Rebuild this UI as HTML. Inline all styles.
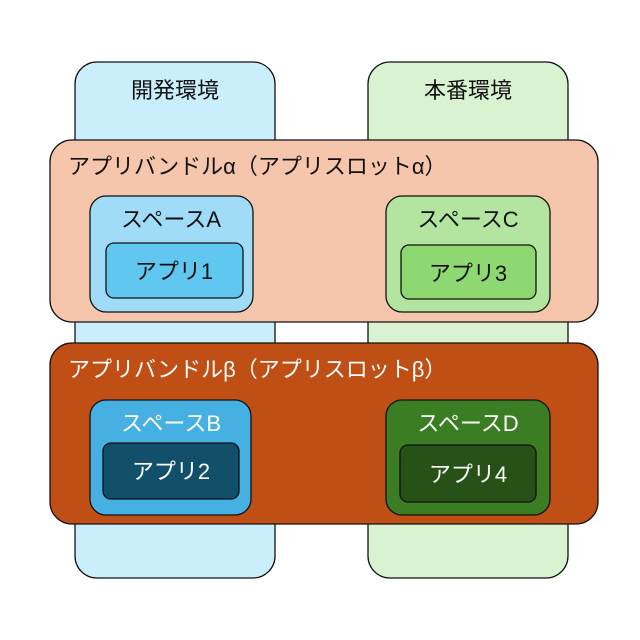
<!DOCTYPE html>
<html><head><meta charset="utf-8"><style>body{margin:0;background:#fff}svg{display:block}text{font-family:"Liberation Sans","Noto Sans CJK JP",sans-serif;font-size:22px}</style></head>
<body>
<svg width="640" height="640" viewBox="0 0 640 640">
<rect x="75" y="62" width="200" height="516" rx="22" fill="#caeefb" stroke="#111" stroke-width="1.3"/>
<rect x="368" y="62" width="200" height="516" rx="22" fill="#d9f2d0" stroke="#111" stroke-width="1.3"/>
<text x="175" y="98" text-anchor="middle" fill="#111">開発環境</text>
<text x="468" y="98" text-anchor="middle" fill="#111">本番環境</text>
<rect x="50" y="140" width="548" height="182" rx="22" fill="#f6c6ac" stroke="#111" stroke-width="1.3"/>
<text x="68" y="174" fill="#111">アプリバンドルα（アプリスロットα）</text>
<rect x="90" y="196" width="163" height="116" rx="16" fill="#a0dcf7" stroke="#111" stroke-width="1.3"/>
<text x="171" y="227" text-anchor="middle" fill="#111">スペースA</text>
<rect x="106" y="243" width="137" height="55" rx="8" fill="#60c8f0" stroke="#111" stroke-width="1.3"/>
<text x="174" y="279" text-anchor="middle" fill="#111">アプリ1</text>
<rect x="386" y="196" width="164" height="116" rx="16" fill="#b3e5a1" stroke="#111" stroke-width="1.3"/>
<text x="468" y="227" text-anchor="middle" fill="#111">スペースC</text>
<rect x="401" y="245" width="135" height="54" rx="8" fill="#8ed872" stroke="#111" stroke-width="1.3"/>
<text x="468" y="281" text-anchor="middle" fill="#111">アプリ3</text>
<rect x="50" y="343" width="548" height="181" rx="22" fill="#c04f15" stroke="#111" stroke-width="1.3"/>
<text x="68" y="377" fill="#fff">アプリバンドルβ（アプリスロットβ）</text>
<rect x="90" y="400" width="161" height="115" rx="16" fill="#45b0e1" stroke="#111" stroke-width="1.3"/>
<text x="171" y="431" text-anchor="middle" fill="#fff">スペースB</text>
<rect x="103" y="443" width="136" height="56" rx="8" fill="#124f6b" stroke="#111" stroke-width="1.3"/>
<text x="171" y="479" text-anchor="middle" fill="#fff">アプリ2</text>
<rect x="386" y="400" width="164" height="115" rx="16" fill="#3a7d22" stroke="#111" stroke-width="1.3"/>
<text x="468" y="431" text-anchor="middle" fill="#fff">スペースD</text>
<rect x="400" y="445" width="136" height="57" rx="8" fill="#265217" stroke="#111" stroke-width="1.3"/>
<text x="468" y="482" text-anchor="middle" fill="#fff">アプリ4</text>
</svg>
</body></html>
